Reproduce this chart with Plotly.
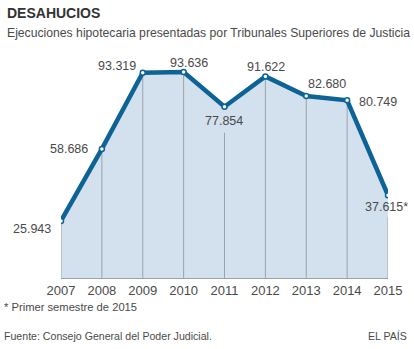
import plotly.graph_objects as go

years = [2007, 2008, 2009, 2010, 2011, 2012, 2013, 2014, 2015]
values = [25.943, 58.686, 93.319, 93.636, 77.854, 91.622, 82.680, 80.749, 37.615]
labels = ["25.943", "58.686", "93.319", "93.636", "77.854", "91.622", "82.680", "80.749", "37.615*"]
# label placement: (xshift, yshift) in px relative to the point
label_shift = [(-29, -8), (-33, 0), (-26, 7), (5, 9), (-1, -14), (1, 9), (21, 12), (31, -2), (-2, -12)]
# px gap kept free above vertical guide lines where a label sits below the point
guide_gap_px = [0, 0, 0, 0, 26, 0, 0, 0, 22]

FILL = "#d3e0ed"
LINE = "#0d6396"
GUIDE = "#9aa3ab"
TXT = "#4a4a4a"
FONT = "Liberation Sans, Arial, sans-serif"

W, H = 414, 349
ML, MR, MT, MB = 61, 22, 58, 71
px_per_unit = (H - MT - MB) / 100.0

fig = go.Figure()
fig.add_trace(go.Scatter(x=years, y=values, mode="lines", fill="tozeroy",
                         fillcolor=FILL, line=dict(width=0), hoverinfo="skip"))
gx, gy = [], []
for yr, v, g in zip(years, values, guide_gap_px):
    gx += [yr, yr, None]
    gy += [0, v - g / px_per_unit, None]
fig.add_trace(go.Scatter(x=gx, y=gy, mode="lines", line=dict(color=GUIDE, width=1),
                         hoverinfo="skip"))
fig.add_trace(go.Scatter(x=years, y=values, mode="lines+markers",
                         line=dict(color=LINE, width=4.5),
                         marker=dict(size=5, color="white", line=dict(color=LINE, width=1.5))))

for yr, v, t, (dx, dy) in zip(years, values, labels, label_shift):
    fig.add_annotation(x=yr, y=v, text=t, showarrow=False, xshift=dx, yshift=dy,
                       font=dict(family=FONT, size=12.5, color=TXT))

fig.update_layout(
    width=W, height=H, showlegend=False,
    margin=dict(l=ML, r=MR, t=MT, b=MB),
    paper_bgcolor="white", plot_bgcolor="white",
    font=dict(family=FONT, color=TXT),
    xaxis=dict(range=[2007, 2015], tickmode="array", tickvals=years,
               ticktext=[str(y) for y in years], showgrid=False, zeroline=False,
               showline=True, linecolor=GUIDE, linewidth=1, ticks="",
               tickfont=dict(family=FONT, size=13, color=TXT), fixedrange=True),
    yaxis=dict(range=[0, 100], visible=False, fixedrange=True),
)

# texts placed in figure pixel coordinates (converted to paper coords)
texts = [
    ("<b>DESAHUCIOS</b>", 4, 13, 14, "#333333", "left"),
    ("Ejecuciones hipotecaria presentadas por Tribunales Superiores de Justicia", 4, 33, 12.2, TXT, "left"),
    ("* Primer semestre de 2015", 1, 307, 11.2, TXT, "left"),
    ("Fuente: Consejo General del Poder Judicial.", 1, 336, 10.6, TXT, "left"),
    ("EL PAÍS", 413, 336, 10.6, TXT, "right"),
]
pw, ph = W - ML - MR, H - MT - MB
for t, x, y, s, c, anc in texts:
    fig.add_annotation(x=(x - ML) / pw, y=1 - (y - MT) / ph, xref="paper", yref="paper",
                       xanchor=anc, yanchor="middle", text=t, showarrow=False,
                       font=dict(family=FONT, size=s, color=c))

fig.write_html("out.html")
